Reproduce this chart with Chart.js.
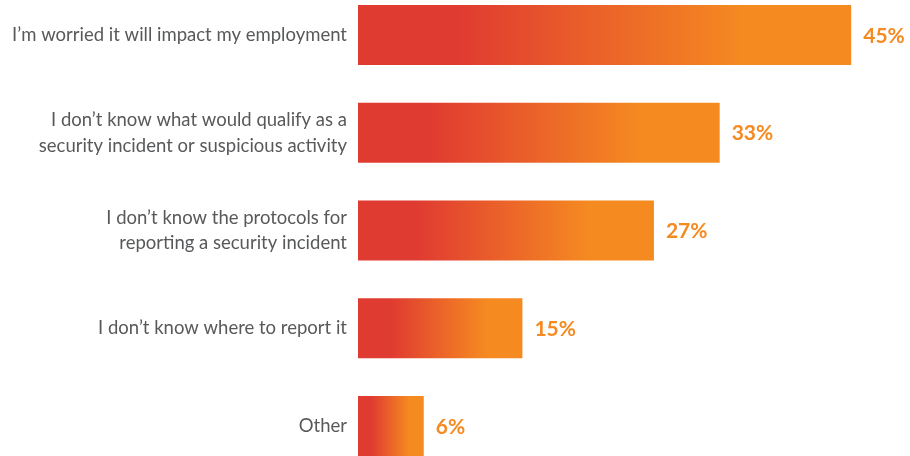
<!DOCTYPE html>
<html>
<head>
<meta charset="utf-8">
<script src="https://cdn.jsdelivr.net/npm/chart.js@4/dist/chart.umd.min.js"></script>
<style>
  html, body { margin: 0; padding: 0; background: #fff; overflow: hidden; }
  #chart { position: absolute; left: 0; top: -14px; }
</style>
</head>
<body>
<canvas id="chart" width="910" height="489"></canvas>
<script>
// survey answers, top to bottom
const reasons = [
  "I\u2019m worried it will impact my employment",
  ["I don\u2019t know what would qualify as a", "security incident or suspicious activity"],
  ["I don\u2019t know the protocols for", "reporting a security incident"],
  "I don\u2019t know where to report it",
  "Other",
];
const shares = [45, 33, 27, 15, 6];

const RED = "#e03b31";
const ORANGE = "#f58a21";

// each bar fades red -> orange over its own length
function barFill(ctx) {
  const chart = ctx.chart;
  const x = chart.scales && chart.scales.x;
  if (!chart.chartArea || !x || ctx.raw == null) return ORANGE;
  const x0 = x.getPixelForValue(0);
  const x1 = x.getPixelForValue(ctx.raw);
  const g = chart.ctx.createLinearGradient(x0, 0, x1, 0);
  g.addColorStop(0, RED);
  g.addColorStop(0.2, RED);
  g.addColorStop(0.78, ORANGE);
  g.addColorStop(1, ORANGE);
  return g;
}

// percentage labels just past the bar ends
const valueLabels = {
  id: "valueLabels",
  afterDatasetsDraw(chart) {
    const c = chart.ctx;
    const meta = chart.getDatasetMeta(0);
    c.save();
    c.font = "bold 21px Lato";
    c.fillStyle = ORANGE;
    c.textAlign = "left";
    c.textBaseline = "middle";
    meta.data.forEach((bar, i) => {
      c.fillText(shares[i] + "%", bar.x + 12, bar.y + 1);
    });
    c.restore();
  },
};

new Chart(document.getElementById("chart"), {
  type: "bar",
  data: {
    labels: reasons,
    datasets: [{
      data: shares,
      backgroundColor: barFill,
      borderWidth: 0,
      barPercentage: 0.614,
      categoryPercentage: 1,
    }],
  },
  options: {
    indexAxis: "y",
    responsive: false,
    animation: false,
    layout: { padding: { left: 0, right: 4, top: 0, bottom: 0 } },
    plugins: { legend: { display: false }, tooltip: { enabled: false } },
    scales: {
      x: { display: false, min: 0, max: 50, grid: { display: false } },
      y: {
        grid: { display: false, drawTicks: false },
        border: { display: false },
        ticks: {
          color: "#58595b",
          padding: 11,
          font: { family: "Lato", size: 18.5, lineHeight: 1.4 },
        },
        afterFit(scale) {
          // fixed label column, no extra room above/below the first/last label
          scale.width = 358;
          scale.paddingTop = 0;
          scale.paddingBottom = 0;
        },
      },
    },
  },
  plugins: [valueLabels],
});
</script>
</body>
</html>
